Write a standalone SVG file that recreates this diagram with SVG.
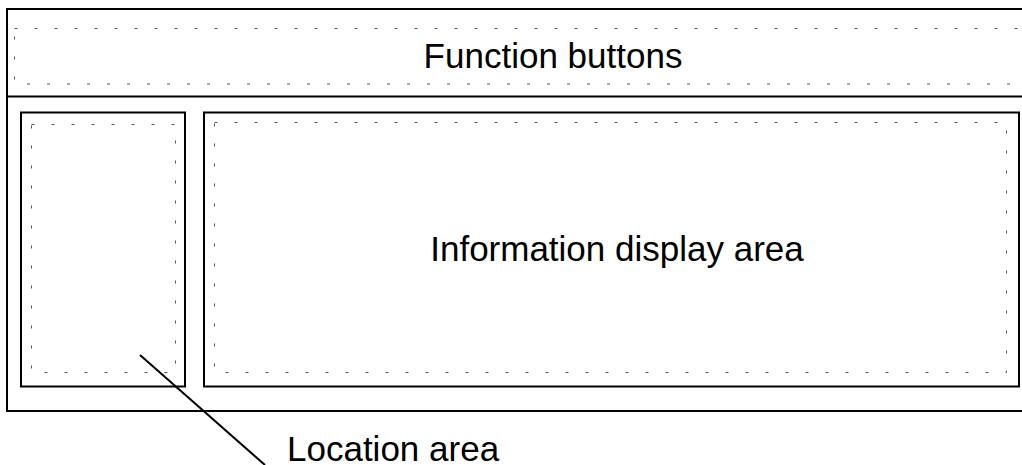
<svg xmlns="http://www.w3.org/2000/svg" width="1022" height="465" viewBox="0 0 1022 465">
<style>
.box{fill:none;stroke:#000;stroke-width:2}
.dot{fill:none;stroke:#555;stroke-width:1;stroke-dasharray:3 17}
.lbl{font-family:"Liberation Sans",Arial,sans-serif;font-size:35px;fill:#000}
</style>
<rect width="1022" height="465" fill="#fff"/>
<g id="frame">
<rect class="box" x="7" y="9" width="1030" height="402"/>
<line class="box" x1="7" y1="96.5" x2="1022" y2="96.5"/>
</g>
<g id="function-buttons">
<rect class="dot" x="14.5" y="28.5" width="1020" height="55.5"/>
<text class="lbl" x="553" y="68" text-anchor="middle">Function buttons</text>
</g>
<g id="location-area">
<rect class="box" x="21" y="112.5" width="164" height="274"/>
<rect class="dot" x="31.5" y="124.5" width="144" height="248"/>
</g>
<g id="information-display-area">
<rect class="box" x="204" y="112.5" width="815" height="274"/>
<rect class="dot" x="214.5" y="122.5" width="792" height="250"/>
<text class="lbl" x="617" y="261" text-anchor="middle">Information display area</text>
</g>
<g id="connectors">
<line x1="140" y1="355" x2="265" y2="465" stroke="#000" stroke-width="2"/>
<text class="lbl" x="287" y="461">Location area</text>
</g>
</svg>
